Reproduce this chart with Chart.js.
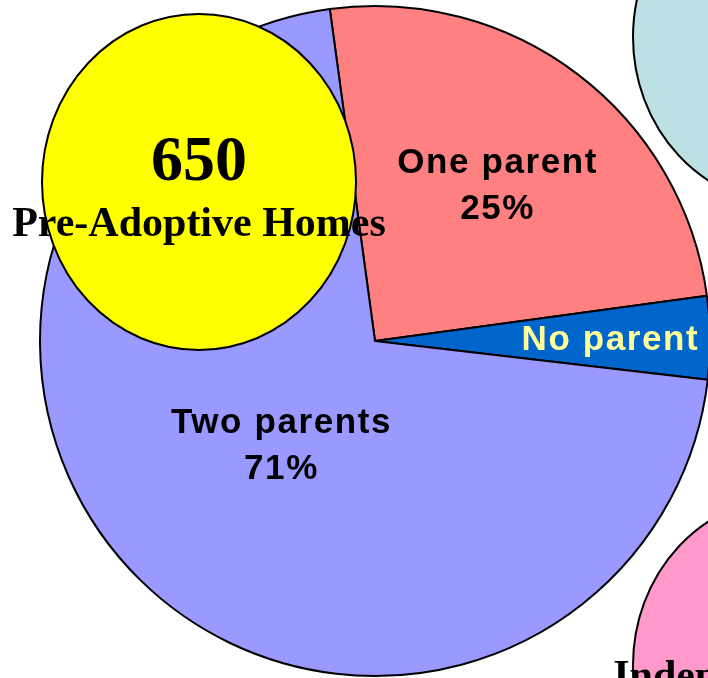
<!DOCTYPE html>
<html>
<head>
<meta charset="utf-8">
<script src="https://cdn.jsdelivr.net/npm/chart.js@4.4.1/dist/chart.umd.min.js"></script>
<style>
html, body { margin: 0; padding: 0; background: #fff; }
#wrap { position: relative; width: 708px; height: 678px; overflow: hidden; background: #fff; }
#pie { position: absolute; left: 0; top: 0; }
#bubbles { position: absolute; left: 0; top: 0; }
</style>
</head>
<body>
<div id="wrap">
<canvas id="pie" width="750" height="682"></canvas>
<canvas id="bubbles" width="708" height="678"></canvas>
</div>
<script>
// Pie data
const categories = ['One parent', 'No parent', 'Two parents'];
const shares = [25, 4, 71];
const sliceColors = ['#FF8080', '#0066CC', '#9999FF'];

// Placement bubbles (yellow one in front, others cut off at the edges)
const homeTypes = ['Pre-Adoptive Homes', '', 'Independent Living'];
const homeCounts = ['650', '', ''];
const bubbleX = [199, 790, 790];
const bubbleY = [182, 37, 665];
const bubbleR = [157, 157, 157];
const bubbleColors = ['#FFFF00', '#BCE0E3', '#FF99CC'];

// slice labels
const sliceLabels = {
  id: 'sliceLabels',
  afterDatasetsDraw(chart) {
    const ctx = chart.ctx;
    const meta = chart.getDatasetMeta(0);
    const fracs = [0.6, 0.8, 0.42];
    const nudgeX = [1, 0, 5];
    const colors = ['#000', '#FFFF99', '#000'];
    meta.data.forEach((arc, i) => {
      const p = arc.getProps(['x', 'y', 'startAngle', 'endAngle', 'outerRadius'], true);
      const mid = (p.startAngle + p.endAngle) / 2;
      const cx = p.x + Math.cos(mid) * p.outerRadius * fracs[i] + nudgeX[i];
      const cy = p.y + Math.sin(mid) * p.outerRadius * fracs[i];
      ctx.save();
      ctx.font = 'bold 35px "Liberation Sans", Arial, sans-serif';
      ctx.letterSpacing = '1.6px';
      ctx.fillStyle = colors[i];
      ctx.textAlign = 'center';
      ctx.textBaseline = 'alphabetic';
      if (i === 1) {
        ctx.fillText(categories[i] + ' ' + shares[i] + '%', cx, cy + 12);
      } else {
        ctx.fillText(categories[i], cx, cy - 8);
        ctx.fillText(shares[i] + '%', cx, cy + 38);
      }
      ctx.restore();
    });
  }
};

new Chart(document.getElementById('pie').getContext('2d'), {
  type: 'pie',
  data: {
    labels: categories,
    datasets: [{
      data: shares,
      backgroundColor: sliceColors,
      borderColor: '#000',
      borderWidth: 2
    }]
  },
  options: {
    responsive: false,
    animation: false,
    events: [],
    rotation: -7.75,
    radius: 335,
    layout: { padding: 0 },
    plugins: { legend: { display: false }, tooltip: { enabled: false } }
  },
  plugins: [sliceLabels]
});

// bubbles are a bit taller than wide
const ovalBubbles = {
  id: 'ovalBubbles',
  beforeDatasetDraw(chart, args) {
    const ctx = chart.ctx;
    args.meta.data.forEach((pt) => {
      ctx.save();
      ctx.translate(pt.x, pt.y);
      ctx.scale(1, 1.07);
      ctx.translate(-pt.x, -pt.y);
      pt.draw(ctx, chart.chartArea);
      ctx.restore();
    });
    return false;
  },
  afterDatasetsDraw(chart) {
    const ctx = chart.ctx;
    const meta = chart.getDatasetMeta(0);
    const labelOffsets = [54, 0, 24];
    meta.data.forEach((pt, i) => {
      ctx.save();
      ctx.fillStyle = '#000';
      ctx.textAlign = 'center';
      ctx.textBaseline = 'alphabetic';
      if (homeCounts[i]) {
        ctx.font = 'bold 64px "Liberation Serif", "Times New Roman", serif';
        ctx.fillText(homeCounts[i], pt.x, pt.y - 2);
      }
      if (homeTypes[i]) {
        ctx.font = 'bold 42px "Liberation Serif", "Times New Roman", serif';
        ctx.fillText(homeTypes[i], pt.x, pt.y + labelOffsets[i]);
      }
      ctx.restore();
    });
  }
};

new Chart(document.getElementById('bubbles').getContext('2d'), {
  type: 'bubble',
  data: {
    datasets: [{
      data: bubbleX.map((x, i) => ({ x: x, y: bubbleY[i], r: bubbleR[i] })),
      backgroundColor: bubbleColors,
      borderColor: '#000',
      borderWidth: 2,
      clip: false
    }]
  },
  options: {
    responsive: false,
    animation: false,
    events: [],
    layout: { padding: 0, autoPadding: false },
    scales: {
      x: { type: 'linear', display: false, min: 0, max: 708 },
      y: { type: 'linear', display: false, min: 0, max: 678, reverse: true }
    },
    plugins: { legend: { display: false }, tooltip: { enabled: false } }
  },
  plugins: [ovalBubbles]
});
</script>
</body>
</html>
